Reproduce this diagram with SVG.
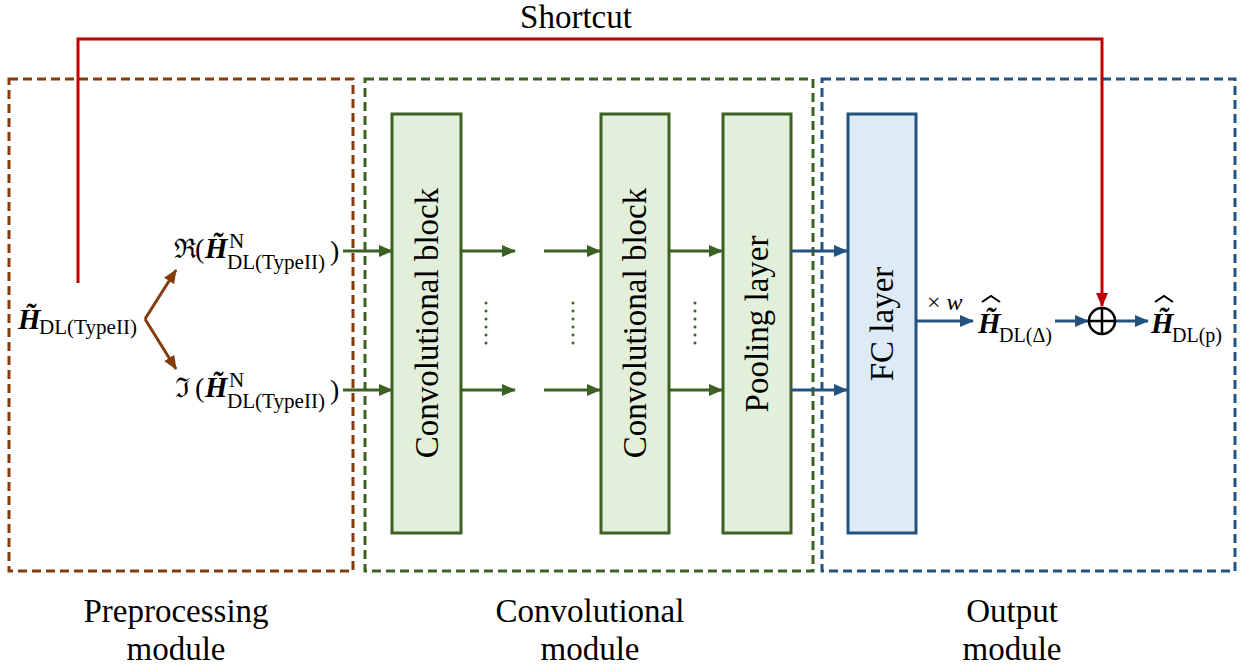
<svg xmlns="http://www.w3.org/2000/svg" width="1242" height="668" viewBox="0 0 1242 668">
<style>
.lbl{font-family:"Liberation Serif","Times New Roman",serif;font-size:33px;fill:#000}
.m{font-family:"Liberation Serif","DejaVu Serif",serif;fill:#000}
.H{font-size:29px;font-weight:bold;font-style:italic}
.sub{font-size:21px}
.blk{fill:#E2EFDA;stroke:#3D6125;stroke-width:3}
.fc{fill:#DDEBF7;stroke:#24527E;stroke-width:3}
.gl{stroke:#3D6125;stroke-width:3;fill:none}
.bl{stroke:#24527E;stroke-width:3;fill:none}
.br{stroke:#843C0C;stroke-width:3;fill:none}
.dot{fill:#3D6125}
.hat{fill:none;stroke:#000;stroke-width:2}
</style>
<defs>
<marker id="ag" markerUnits="userSpaceOnUse" markerWidth="14" markerHeight="12" refX="13" refY="6" orient="auto"><path d="M0,0 L14,6 L0,12 Z" fill="#3D6125"/></marker>
<marker id="ab" markerUnits="userSpaceOnUse" markerWidth="14" markerHeight="12" refX="13" refY="6" orient="auto"><path d="M0,0 L14,6 L0,12 Z" fill="#24527E"/></marker>
<marker id="abr" markerUnits="userSpaceOnUse" markerWidth="14" markerHeight="12" refX="13" refY="6" orient="auto"><path d="M0,0 L14,6 L0,12 Z" fill="#843C0C"/></marker>
<marker id="ar" markerUnits="userSpaceOnUse" markerWidth="14" markerHeight="12" refX="13" refY="6" orient="auto"><path d="M0,0 L14,6 L0,12 Z" fill="#C00000"/></marker>
</defs>

<g id="modules">
<rect id="preprocessing" x="9" y="79" width="344" height="492" fill="none" stroke="#843C0C" stroke-width="3" stroke-dasharray="9,5"/>
<rect id="convolutional" x="365" y="79" width="448" height="492" fill="none" stroke="#3D6125" stroke-width="3" stroke-dasharray="9,5"/>
<rect id="output" x="822" y="79" width="413" height="492" fill="none" stroke="#24527E" stroke-width="3" stroke-dasharray="9,5"/>
</g>

<g id="conv-block-1"><rect class="blk" x="392" y="114" width="69" height="419"/><text class="lbl" transform="translate(438,323) rotate(-90)" text-anchor="middle">Convolutional block</text></g>
<g id="conv-block-2"><rect class="blk" x="601" y="114" width="68" height="419"/><text class="lbl" transform="translate(646,323) rotate(-90)" text-anchor="middle">Convolutional block</text></g>
<g id="pooling"><rect class="blk" x="723" y="114" width="68" height="419"/><text class="lbl" transform="translate(768,324) rotate(-90)" text-anchor="middle">Pooling layer</text></g>
<g id="fc"><rect class="fc" x="848" y="114" width="68" height="419"/><text class="lbl" transform="translate(893,324) rotate(-90)" text-anchor="middle">FC layer</text></g>

<g id="connectors">
<line class="gl" x1="343" y1="251" x2="392" y2="251" marker-end="url(#ag)"/>
<line class="gl" x1="343" y1="390" x2="392" y2="390" marker-end="url(#ag)"/>
<line class="gl" x1="461" y1="251" x2="515" y2="251" marker-end="url(#ag)"/>
<line class="gl" x1="461" y1="390" x2="515" y2="390" marker-end="url(#ag)"/>
<line class="gl" x1="544" y1="251" x2="600" y2="251" marker-end="url(#ag)"/>
<line class="gl" x1="544" y1="390" x2="600" y2="390" marker-end="url(#ag)"/>
<line class="gl" x1="669" y1="251" x2="722" y2="251" marker-end="url(#ag)"/>
<line class="gl" x1="669" y1="390" x2="722" y2="390" marker-end="url(#ag)"/>
<line class="bl" x1="791" y1="251" x2="847" y2="251" marker-end="url(#ab)"/>
<line class="bl" x1="791" y1="390" x2="847" y2="390" marker-end="url(#ab)"/>
<line class="bl" x1="916" y1="321" x2="973" y2="321" marker-end="url(#ab)"/>
<line class="bl" x1="1055" y1="321" x2="1088" y2="321" marker-end="url(#ab)"/>
<line class="bl" x1="1116" y1="321" x2="1148" y2="321" marker-end="url(#ab)"/>
<line class="br" x1="145" y1="319" x2="176" y2="270" marker-end="url(#abr)"/>
<line class="br" x1="145" y1="319" x2="176" y2="369" marker-end="url(#abr)"/>
<polyline points="78,283 78,39 1102,39 1102,306" fill="none" stroke="#C00000" stroke-width="3" marker-end="url(#ar)"/>
<g class="dot">
<circle cx="486" cy="303" r="1.5"/><circle cx="486" cy="311" r="1.5"/><circle cx="486" cy="319" r="1.5"/><circle cx="486" cy="327" r="1.5"/><circle cx="486" cy="335" r="1.5"/><circle cx="486" cy="343" r="1.5"/>
<circle cx="573" cy="303" r="1.5"/><circle cx="573" cy="311" r="1.5"/><circle cx="573" cy="319" r="1.5"/><circle cx="573" cy="327" r="1.5"/><circle cx="573" cy="335" r="1.5"/><circle cx="573" cy="343" r="1.5"/>
<circle cx="695" cy="303" r="1.5"/><circle cx="695" cy="311" r="1.5"/><circle cx="695" cy="319" r="1.5"/><circle cx="695" cy="327" r="1.5"/><circle cx="695" cy="335" r="1.5"/><circle cx="695" cy="343" r="1.5"/>
</g>
</g>

<g id="sum">
<circle cx="1102" cy="321" r="13" fill="none" stroke="#000" stroke-width="2.5"/>
<line x1="1089" y1="321" x2="1115" y2="321" stroke="#000" stroke-width="2.5"/>
<line x1="1102" y1="308" x2="1102" y2="334" stroke="#000" stroke-width="2.5"/>
</g>

<g id="input-label" class="m">
<text x="18" y="329" class="H">H̃</text>
<text x="39" y="334" class="sub" textLength="98" lengthAdjust="spacingAndGlyphs">DL(TypeII)</text>
</g>
<g id="real-label" class="m">
<text x="174" y="258" font-size="27">ℜ</text>
<text x="195" y="258" font-size="28">(</text>
<text x="205" y="258" class="H">H̃</text>
<text x="229" y="248" class="sub">N</text>
<text x="227" y="269" class="sub" textLength="98" lengthAdjust="spacingAndGlyphs">DL(TypeII)</text>
<text x="330" y="260" font-size="28">)</text>
</g>
<g id="imag-label" class="m">
<text x="175" y="397" font-size="27">ℑ</text>
<text x="195" y="397" font-size="28">(</text>
<text x="205" y="397" class="H">H̃</text>
<text x="229" y="387" class="sub">N</text>
<text x="227" y="408" class="sub" textLength="98" lengthAdjust="spacingAndGlyphs">DL(TypeII)</text>
<text x="330" y="399" font-size="28">)</text>
</g>
<g id="w-label" class="m"><text x="927" y="310" font-size="24">× <tspan font-style="italic">w</tspan></text></g>
<g id="delta-label" class="m">
<text x="978" y="333" class="H">H̃</text>
<polyline class="hat" points="982,302 991,296 1000,302"/>
<text x="999" y="342" class="sub" textLength="53" lengthAdjust="spacingAndGlyphs">DL(Δ)</text>
</g>
<g id="p-label" class="m">
<text x="1151" y="333" class="H">H̃</text>
<polyline class="hat" points="1155,302 1164,296 1173,302"/>
<text x="1172" y="342" class="sub" textLength="50" lengthAdjust="spacingAndGlyphs">DL(p)</text>
</g>

<g id="texts">
<text class="lbl" x="576" y="28" text-anchor="middle">Shortcut</text>
<text class="lbl" x="176" y="622" text-anchor="middle">Preprocessing</text>
<text class="lbl" x="176" y="660" text-anchor="middle">module</text>
<text class="lbl" x="590" y="622" text-anchor="middle">Convolutional</text>
<text class="lbl" x="590" y="660" text-anchor="middle">module</text>
<text class="lbl" x="1012" y="622" text-anchor="middle">Output</text>
<text class="lbl" x="1012" y="660" text-anchor="middle">module</text>
</g>
</svg>
